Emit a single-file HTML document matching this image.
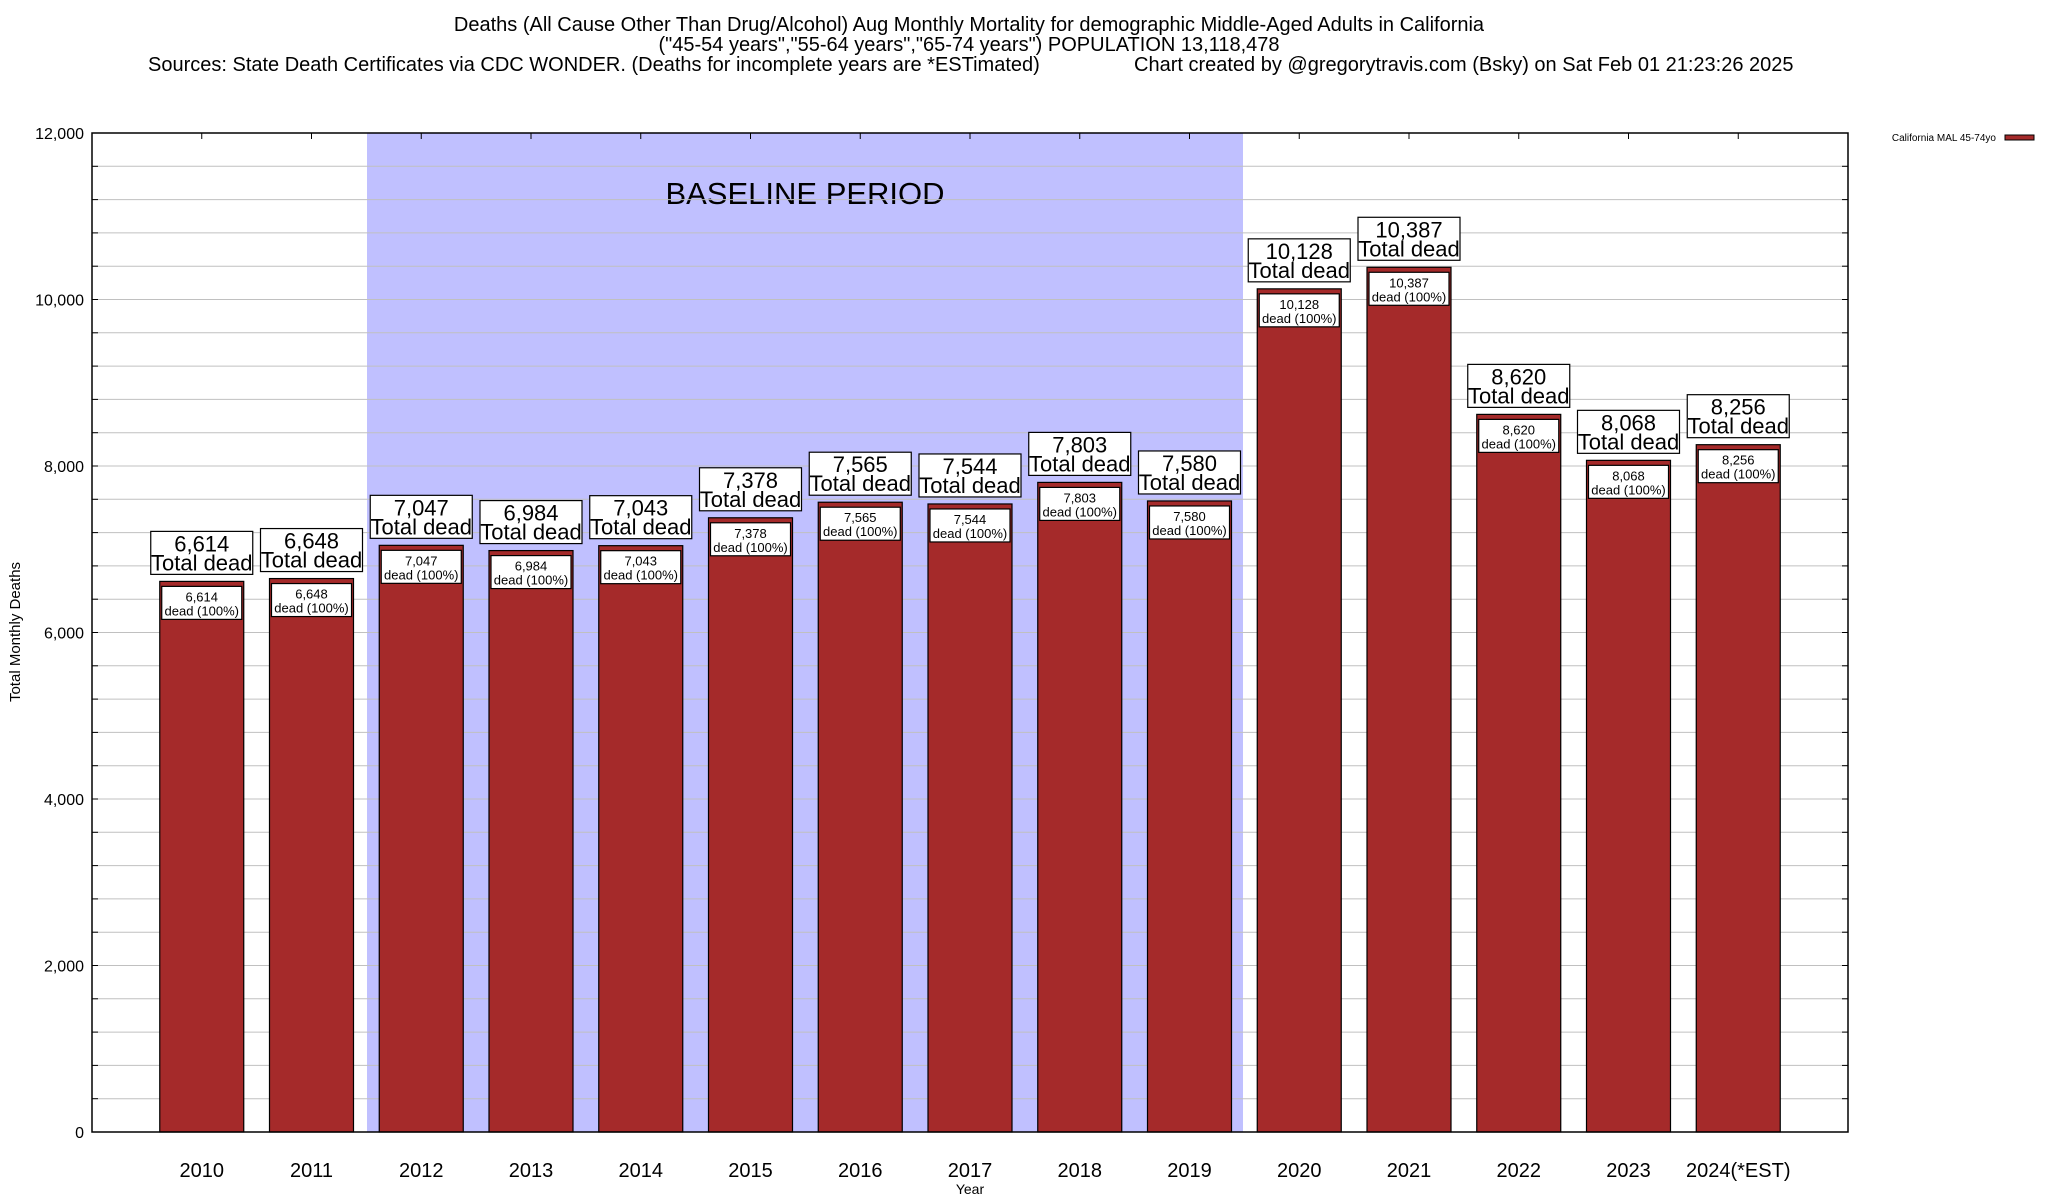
<!DOCTYPE html>
<html><head><meta charset="utf-8"><style>
html,body{margin:0;padding:0;background:#fff;}
svg{display:block;font-family:"Liberation Sans",Arial,sans-serif;}
</style></head><body>
<svg id="chart" width="2048" height="1200" viewBox="0 0 2048 1200">
  <g font-size="20" fill="#000">
    <text x="969" y="31" text-anchor="middle">Deaths (All Cause Other Than Drug/Alcohol) Aug Monthly Mortality for demographic Middle-Aged Adults in California</text>
    <text x="969" y="51" text-anchor="middle">("45-54 years","55-64 years","65-74 years") POPULATION 13,118,478</text>
    <text x="148" y="71">Sources: State Death Certificates via CDC WONDER. (Deaths for incomplete years are *ESTimated)</text>
    <text x="1134" y="71">Chart created by @gregorytravis.com (Bsky) on Sat Feb 01 21:23:26 2025</text>
  </g>
  <rect x="367" y="133" width="876" height="999" fill="#c0c0ff"/>
  <text x="805" y="204" text-anchor="middle" font-size="31">BASELINE PERIOD</text>
  <g id="grid"></g>
  <g id="bars"></g>
  <rect x="92" y="133" width="1756" height="999" fill="none" stroke="#000" stroke-width="1.5"/>
  <g id="yticks"></g>
  <g id="xticks"></g>
  <text transform="translate(20,632) rotate(-90)" text-anchor="middle" font-size="15">Total Monthly Deaths</text>
  <text x="970" y="1194" text-anchor="middle" font-size="14">Year</text>
  <g>
    <text x="1996" y="141" text-anchor="end" font-size="10">California MAL 45-74yo</text>
    <rect x="2005" y="135" width="29" height="5" fill="#a52a2a" stroke="#000" stroke-width="1"/>
  </g>
</svg>
<script>
const categories = ["2010","2011","2012","2013","2014","2015","2016","2017","2018","2019","2020","2021","2022","2023","2024(*EST)"];
const deaths = [6614,6648,7047,6984,7043,7378,7565,7544,7803,7580,10128,10387,8620,8068,8256];
const yTickValues = [0,2000,4000,6000,8000,10000,12000];
const yTickLabels = ["0","2,000","4,000","6,000","8,000","10,000","12,000"];

const NS = "http://www.w3.org/2000/svg";
const L = 92, R = 1848, T = 133, B = 1132, YMAX = 12000;
const slot = (R - L) / (categories.length + 1);
function xScale(i){ return L + (i + 1) * slot; }
function yScale(v){ return B - v / YMAX * (B - T); }
function mk(tag, attrs, parent){ const e = document.createElementNS(NS, tag); for (const k in attrs) e.setAttribute(k, attrs[k]); parent.appendChild(e); return e; }
function fmt(v){ return v.toLocaleString("en-US"); }

const grid = document.getElementById("grid");
for (let v = 400; v < YMAX; v += 400) {
  const y = yScale(v);
  const ln = mk("line", {x1:L, x2:R, y1:y, y2:y, stroke:"#c0c0c0", "stroke-width":1}, grid);
  
  
  const t1 = mk("line", {x1:L, x2:L+6, y1:y, y2:y, stroke:"#000"}, grid);
  
  
  const t2 = mk("line", {x1:R-6, x2:R, y1:y, y2:y, stroke:"#000"}, grid);
  
  
}

const yt = document.getElementById("yticks");
yTickValues.forEach((v, k) => {
  const t = mk("text", {x:84, y:yScale(v)+6, "text-anchor":"end", "font-size":16}, yt);
  t.textContent = yTickLabels[k];
  
  
});

const bars = document.getElementById("bars");
const xt = document.getElementById("xticks");
const bw = 84;
categories.forEach((c, i) => {
  const cx = xScale(i), v = deaths[i], top = yScale(v);
  const bar = mk("rect", {x:cx-bw/2, y:top, width:bw, height:B-top, fill:"#a52a2a", stroke:"#000", "stroke-width":1.2}, bars);
  
  
  const ib = mk("rect", {x:cx-bw/2+2, y:top+5, width:bw-4, height:33, fill:"#fff", stroke:"#000", "stroke-width":1.2}, bars);
  
  
  const it1 = mk("text", {x:cx, y:top+20, "text-anchor":"middle", "font-size":13}, bars);
  it1.textContent = fmt(v);
  
  
  const it2 = mk("text", {x:cx, y:top+34, "text-anchor":"middle", "font-size":13}, bars);
  it2.textContent = "dead (100%)";
  
  
  const ob = mk("rect", {x:cx-51, y:top-50, width:102, height:43, fill:"#fff", stroke:"#000", "stroke-width":1.2}, bars);
  
  
  const o1 = mk("text", {x:cx, y:top-30, "text-anchor":"middle", "font-size":22}, bars);
  o1.textContent = fmt(v);
  
  
  const o2 = mk("text", {x:cx, y:top-11, "text-anchor":"middle", "font-size":22}, bars);
  o2.textContent = "Total dead";
  
  
  const tk = mk("line", {x1:cx, x2:cx, y1:T, y2:T+6, stroke:"#000"}, xt);
  
  
  const xl = mk("text", {x:cx, y:1177, "text-anchor":"middle", "font-size":20}, xt);
  xl.textContent = c;
  
  
});
</script>
</body></html>
